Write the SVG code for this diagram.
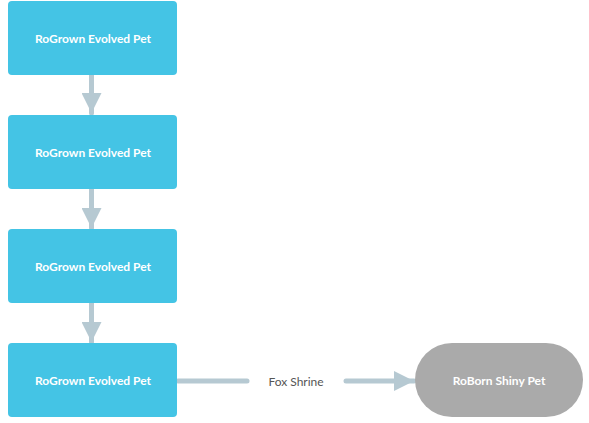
<svg xmlns="http://www.w3.org/2000/svg" width="589" height="423" viewBox="0 0 589 423">
<style>
.box{fill:#44c4e5;}
.pill{fill:#aaaaaa;}
.lbl{font-family:Lato,"Liberation Sans",sans-serif;font-size:12px;font-weight:bold;fill:#ffffff;text-anchor:middle;dominant-baseline:central;}
.edge{stroke:#b6c9d2;stroke-width:5;fill:none;stroke-linecap:round;}
.elbl{font-family:Lato,"Liberation Sans",sans-serif;font-size:12px;fill:#555555;text-anchor:middle;dominant-baseline:central;}
</style>
<defs>
<marker id="ah" markerUnits="userSpaceOnUse" markerWidth="20" markerHeight="20" refX="20" refY="10" orient="auto">
<path d="M0,0 L20,10 L0,20 Z" fill="#b6c9d2"/>
</marker>
</defs>
<rect width="589" height="423" fill="#ffffff"/>
<g id="connectors">
<path class="edge" d="M91.5,75 V113" marker-end="url(#ah)"/>
<path class="edge" d="M91.5,189 V228" marker-end="url(#ah)"/>
<path class="edge" d="M91.5,303 V342" marker-end="url(#ah)"/>
<path class="edge" d="M178,381 H247"/>
<path class="edge" d="M346,381 H414" marker-end="url(#ah)"/>
<text class="elbl" x="296" y="381">Fox Shrine</text>
</g>
<g id="n1"><rect class="box" x="8" y="1" width="169" height="74" rx="4"/><text class="lbl" x="93" y="38">RoGrown Evolved Pet</text></g>
<g id="n2"><rect class="box" x="8" y="115" width="169" height="74" rx="4"/><text class="lbl" x="93" y="152">RoGrown Evolved Pet</text></g>
<g id="n3"><rect class="box" x="8" y="229" width="169" height="74" rx="4"/><text class="lbl" x="93" y="266">RoGrown Evolved Pet</text></g>
<g id="n4"><rect class="box" x="8" y="343" width="169" height="74" rx="4"/><text class="lbl" x="93" y="380">RoGrown Evolved Pet</text></g>
<g id="n5"><rect class="pill" x="415" y="343" width="168" height="74" rx="37"/><text class="lbl" x="499" y="380">RoBorn Shiny Pet</text></g>
</svg>
